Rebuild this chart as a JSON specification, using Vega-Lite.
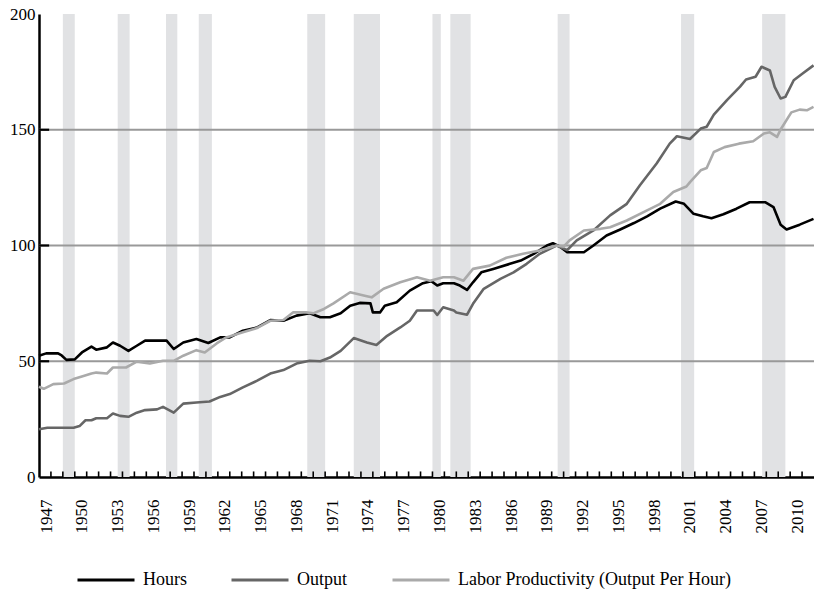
{
  "$schema": "https://vega.github.io/schema/vega-lite/v6.json",
  "width": 775,
  "height": 463,
  "autosize": {"type": "none"},
  "padding": {"left": 39, "top": 14, "right": 0, "bottom": 116},
  "background": "white",
  "config": {
    "view": {"stroke": null},
    "font": "Liberation Serif",
    "axis": {"title": null, "grid": false, "ticks": false, "labelOverlap": false, "labelFont": "Liberation Serif", "labelFontSize": 17, "labelColor": "#000000", "domainColor": "#000000", "domainWidth": 2.5, "zindex": 1},
    "axisX": {"labelOverlap": false, "labelAngle": 270, "labelOffset": 7, "labelPadding": 22, "format": "d", "tickCount": 100},
    "axisY": {"labelOverlap": false, "labelPadding": 4}
  },
  "datasets": {
    "recessions": [
      {"start": 1949.0, "end": 1950.0},
      {"start": 1953.6, "end": 1954.6},
      {"start": 1957.65, "end": 1958.6},
      {"start": 1960.4, "end": 1961.5},
      {"start": 1969.5, "end": 1971.0},
      {"start": 1973.4, "end": 1975.6},
      {"start": 1980.0, "end": 1980.7},
      {"start": 1981.5, "end": 1983.2},
      {"start": 1990.5, "end": 1991.5},
      {"start": 2000.85, "end": 2001.95},
      {"start": 2007.65, "end": 2009.6}
    ],
    "grid": [{"v": 50}, {"v": 100}, {"v": 150}],
    "yearticks": [
      {"t": 1948}, {"t": 1949}, {"t": 1950}, {"t": 1951}, {"t": 1952}, {"t": 1953}, {"t": 1954}, {"t": 1955}, {"t": 1956}, {"t": 1957},
      {"t": 1958}, {"t": 1959}, {"t": 1960}, {"t": 1961}, {"t": 1962}, {"t": 1963}, {"t": 1964}, {"t": 1965}, {"t": 1966}, {"t": 1967},
      {"t": 1968}, {"t": 1969}, {"t": 1970}, {"t": 1971}, {"t": 1972}, {"t": 1973}, {"t": 1974}, {"t": 1975}, {"t": 1976}, {"t": 1977},
      {"t": 1978}, {"t": 1979}, {"t": 1980}, {"t": 1981}, {"t": 1982}, {"t": 1983}, {"t": 1984}, {"t": 1985}, {"t": 1986}, {"t": 1987},
      {"t": 1988}, {"t": 1989}, {"t": 1990}, {"t": 1991}, {"t": 1992}, {"t": 1993}, {"t": 1994}, {"t": 1995}, {"t": 1996}, {"t": 1997},
      {"t": 1998}, {"t": 1999}, {"t": 2000}, {"t": 2001}, {"t": 2002}, {"t": 2003}, {"t": 2004}, {"t": 2005}, {"t": 2006}, {"t": 2007},
      {"t": 2008}, {"t": 2009}, {"t": 2010}, {"t": 2011}
    ],
    "series": [
      {"series": "Hours", "year": 1947.0, "value": 52.4},
      {"series": "Hours", "year": 1947.6, "value": 53.4},
      {"series": "Hours", "year": 1948.6, "value": 53.4},
      {"series": "Hours", "year": 1948.9, "value": 52.5},
      {"series": "Hours", "year": 1949.3, "value": 50.6},
      {"series": "Hours", "year": 1950.0, "value": 50.8},
      {"series": "Hours", "year": 1950.6, "value": 53.8},
      {"series": "Hours", "year": 1951.4, "value": 56.3},
      {"series": "Hours", "year": 1951.8, "value": 55.0},
      {"series": "Hours", "year": 1952.7, "value": 56.0},
      {"series": "Hours", "year": 1953.2, "value": 58.1},
      {"series": "Hours", "year": 1953.8, "value": 56.7},
      {"series": "Hours", "year": 1954.5, "value": 54.5},
      {"series": "Hours", "year": 1955.2, "value": 56.7},
      {"series": "Hours", "year": 1955.9, "value": 58.9},
      {"series": "Hours", "year": 1957.7, "value": 58.9},
      {"series": "Hours", "year": 1958.3, "value": 55.3},
      {"series": "Hours", "year": 1959.1, "value": 58.1},
      {"series": "Hours", "year": 1960.2, "value": 59.6},
      {"series": "Hours", "year": 1961.2, "value": 57.9},
      {"series": "Hours", "year": 1962.2, "value": 60.3},
      {"series": "Hours", "year": 1963.0, "value": 60.3},
      {"series": "Hours", "year": 1964.1, "value": 63.2},
      {"series": "Hours", "year": 1965.3, "value": 64.6},
      {"series": "Hours", "year": 1966.4, "value": 67.8},
      {"series": "Hours", "year": 1967.5, "value": 67.5},
      {"series": "Hours", "year": 1968.6, "value": 69.7},
      {"series": "Hours", "year": 1969.7, "value": 70.7},
      {"series": "Hours", "year": 1970.6, "value": 69.0},
      {"series": "Hours", "year": 1971.4, "value": 69.0},
      {"series": "Hours", "year": 1972.3, "value": 70.7},
      {"series": "Hours", "year": 1973.1, "value": 74.0},
      {"series": "Hours", "year": 1973.9, "value": 75.2},
      {"series": "Hours", "year": 1974.8, "value": 75.0},
      {"series": "Hours", "year": 1975.0, "value": 71.1},
      {"series": "Hours", "year": 1975.6, "value": 71.1},
      {"series": "Hours", "year": 1976.0, "value": 74.0},
      {"series": "Hours", "year": 1977.0, "value": 75.5},
      {"series": "Hours", "year": 1978.1, "value": 80.5},
      {"series": "Hours", "year": 1979.2, "value": 83.7},
      {"series": "Hours", "year": 1979.9, "value": 84.6},
      {"series": "Hours", "year": 1980.4, "value": 82.7},
      {"series": "Hours", "year": 1980.9, "value": 83.7},
      {"series": "Hours", "year": 1981.8, "value": 83.7},
      {"series": "Hours", "year": 1982.3, "value": 82.7},
      {"series": "Hours", "year": 1982.9, "value": 80.8},
      {"series": "Hours", "year": 1983.4, "value": 84.1},
      {"series": "Hours", "year": 1984.1, "value": 88.4},
      {"series": "Hours", "year": 1985.1, "value": 89.9},
      {"series": "Hours", "year": 1986.5, "value": 92.1},
      {"series": "Hours", "year": 1987.4, "value": 93.5},
      {"series": "Hours", "year": 1988.5, "value": 96.4},
      {"series": "Hours", "year": 1989.6, "value": 100.0},
      {"series": "Hours", "year": 1990.1, "value": 101.0},
      {"series": "Hours", "year": 1990.7, "value": 99.5},
      {"series": "Hours", "year": 1991.3, "value": 97.1},
      {"series": "Hours", "year": 1992.7, "value": 97.1},
      {"series": "Hours", "year": 1993.5, "value": 100.0},
      {"series": "Hours", "year": 1994.6, "value": 104.3},
      {"series": "Hours", "year": 1995.7, "value": 106.8},
      {"series": "Hours", "year": 1996.9, "value": 109.7},
      {"series": "Hours", "year": 1998.0, "value": 112.6},
      {"series": "Hours", "year": 1999.1, "value": 115.9},
      {"series": "Hours", "year": 2000.4, "value": 119.0},
      {"series": "Hours", "year": 2001.1, "value": 118.0},
      {"series": "Hours", "year": 2001.9, "value": 113.7},
      {"series": "Hours", "year": 2002.7, "value": 112.6},
      {"series": "Hours", "year": 2003.4, "value": 111.8},
      {"series": "Hours", "year": 2004.4, "value": 113.5},
      {"series": "Hours", "year": 2005.5, "value": 115.9},
      {"series": "Hours", "year": 2006.6, "value": 118.7},
      {"series": "Hours", "year": 2007.9, "value": 118.7},
      {"series": "Hours", "year": 2008.6, "value": 116.6},
      {"series": "Hours", "year": 2009.2, "value": 109.0},
      {"series": "Hours", "year": 2009.7, "value": 106.9},
      {"series": "Hours", "year": 2010.8, "value": 109.0},
      {"series": "Hours", "year": 2011.96, "value": 111.5},

      {"series": "Output", "year": 1947.0, "value": 20.6},
      {"series": "Output", "year": 1947.7, "value": 21.3},
      {"series": "Output", "year": 1949.9, "value": 21.3},
      {"series": "Output", "year": 1950.4, "value": 22.0},
      {"series": "Output", "year": 1950.9, "value": 24.5},
      {"series": "Output", "year": 1951.4, "value": 24.5},
      {"series": "Output", "year": 1951.8, "value": 25.4},
      {"series": "Output", "year": 1952.7, "value": 25.4},
      {"series": "Output", "year": 1953.2, "value": 27.4},
      {"series": "Output", "year": 1953.8, "value": 26.4},
      {"series": "Output", "year": 1954.5, "value": 26.0},
      {"series": "Output", "year": 1955.2, "value": 27.8},
      {"series": "Output", "year": 1955.9, "value": 28.9},
      {"series": "Output", "year": 1956.9, "value": 29.2},
      {"series": "Output", "year": 1957.4, "value": 30.3},
      {"series": "Output", "year": 1958.3, "value": 27.8},
      {"series": "Output", "year": 1959.1, "value": 31.7},
      {"series": "Output", "year": 1960.2, "value": 32.2},
      {"series": "Output", "year": 1961.3, "value": 32.6},
      {"series": "Output", "year": 1962.2, "value": 34.6},
      {"series": "Output", "year": 1963.0, "value": 35.8},
      {"series": "Output", "year": 1964.1, "value": 38.7},
      {"series": "Output", "year": 1965.3, "value": 41.6},
      {"series": "Output", "year": 1966.4, "value": 44.7},
      {"series": "Output", "year": 1967.5, "value": 46.2},
      {"series": "Output", "year": 1968.6, "value": 49.0},
      {"series": "Output", "year": 1969.7, "value": 50.2},
      {"series": "Output", "year": 1970.6, "value": 50.0},
      {"series": "Output", "year": 1971.4, "value": 51.6},
      {"series": "Output", "year": 1972.3, "value": 54.5},
      {"series": "Output", "year": 1973.4, "value": 60.0},
      {"series": "Output", "year": 1974.5, "value": 58.1},
      {"series": "Output", "year": 1975.3, "value": 57.0},
      {"series": "Output", "year": 1976.2, "value": 61.0},
      {"series": "Output", "year": 1977.3, "value": 64.6},
      {"series": "Output", "year": 1978.1, "value": 67.5},
      {"series": "Output", "year": 1978.7, "value": 71.9},
      {"series": "Output", "year": 1980.1, "value": 71.9},
      {"series": "Output", "year": 1980.4, "value": 70.0},
      {"series": "Output", "year": 1980.9, "value": 73.3},
      {"series": "Output", "year": 1981.8, "value": 71.9},
      {"series": "Output", "year": 1982.0, "value": 71.1},
      {"series": "Output", "year": 1982.9, "value": 70.1},
      {"series": "Output", "year": 1983.4, "value": 74.8},
      {"series": "Output", "year": 1984.3, "value": 81.3},
      {"series": "Output", "year": 1985.7, "value": 85.6},
      {"series": "Output", "year": 1986.8, "value": 88.4},
      {"series": "Output", "year": 1987.9, "value": 92.1},
      {"series": "Output", "year": 1989.0, "value": 96.4},
      {"series": "Output", "year": 1990.4, "value": 100.0},
      {"series": "Output", "year": 1991.3, "value": 98.0},
      {"series": "Output", "year": 1992.1, "value": 102.2},
      {"series": "Output", "year": 1993.5, "value": 106.5},
      {"series": "Output", "year": 1994.9, "value": 113.0},
      {"series": "Output", "year": 1996.3, "value": 118.0},
      {"series": "Output", "year": 1997.4, "value": 126.0},
      {"series": "Output", "year": 1998.8, "value": 135.4},
      {"series": "Output", "year": 1999.9, "value": 144.0},
      {"series": "Output", "year": 2000.5, "value": 147.2},
      {"series": "Output", "year": 2001.6, "value": 146.0},
      {"series": "Output", "year": 2002.5, "value": 150.5},
      {"series": "Output", "year": 2003.0, "value": 151.3},
      {"series": "Output", "year": 2003.6, "value": 156.5},
      {"series": "Output", "year": 2004.7, "value": 162.8},
      {"series": "Output", "year": 2005.8, "value": 168.6},
      {"series": "Output", "year": 2006.3, "value": 171.7},
      {"series": "Output", "year": 2007.1, "value": 172.9},
      {"series": "Output", "year": 2007.6, "value": 177.2},
      {"series": "Output", "year": 2008.3, "value": 175.6},
      {"series": "Output", "year": 2008.7, "value": 168.5},
      {"series": "Output", "year": 2009.2, "value": 163.5},
      {"series": "Output", "year": 2009.6, "value": 164.2},
      {"series": "Output", "year": 2010.3, "value": 171.4},
      {"series": "Output", "year": 2011.1, "value": 174.5},
      {"series": "Output", "year": 2011.96, "value": 177.8},

      {"series": "Labor Productivity (Output Per Hour)", "year": 1947.0, "value": 39.0},
      {"series": "Labor Productivity (Output Per Hour)", "year": 1947.4, "value": 38.1},
      {"series": "Labor Productivity (Output Per Hour)", "year": 1948.2, "value": 40.1},
      {"series": "Labor Productivity (Output Per Hour)", "year": 1949.1, "value": 40.4},
      {"series": "Labor Productivity (Output Per Hour)", "year": 1949.9, "value": 42.3},
      {"series": "Labor Productivity (Output Per Hour)", "year": 1950.8, "value": 43.7},
      {"series": "Labor Productivity (Output Per Hour)", "year": 1951.4, "value": 44.7},
      {"series": "Labor Productivity (Output Per Hour)", "year": 1951.8, "value": 45.1},
      {"series": "Labor Productivity (Output Per Hour)", "year": 1952.7, "value": 44.7},
      {"series": "Labor Productivity (Output Per Hour)", "year": 1953.2, "value": 47.3},
      {"series": "Labor Productivity (Output Per Hour)", "year": 1954.3, "value": 47.3},
      {"series": "Labor Productivity (Output Per Hour)", "year": 1955.2, "value": 49.8},
      {"series": "Labor Productivity (Output Per Hour)", "year": 1956.3, "value": 49.0},
      {"series": "Labor Productivity (Output Per Hour)", "year": 1957.4, "value": 50.2},
      {"series": "Labor Productivity (Output Per Hour)", "year": 1958.3, "value": 50.2},
      {"series": "Labor Productivity (Output Per Hour)", "year": 1959.1, "value": 52.4},
      {"series": "Labor Productivity (Output Per Hour)", "year": 1960.2, "value": 54.8},
      {"series": "Labor Productivity (Output Per Hour)", "year": 1960.9, "value": 53.8},
      {"series": "Labor Productivity (Output Per Hour)", "year": 1961.9, "value": 57.7},
      {"series": "Labor Productivity (Output Per Hour)", "year": 1962.7, "value": 60.3},
      {"series": "Labor Productivity (Output Per Hour)", "year": 1964.1, "value": 62.5},
      {"series": "Labor Productivity (Output Per Hour)", "year": 1965.3, "value": 64.4},
      {"series": "Labor Productivity (Output Per Hour)", "year": 1966.4, "value": 67.5},
      {"series": "Labor Productivity (Output Per Hour)", "year": 1967.5, "value": 67.8},
      {"series": "Labor Productivity (Output Per Hour)", "year": 1968.3, "value": 71.1},
      {"series": "Labor Productivity (Output Per Hour)", "year": 1969.4, "value": 71.1},
      {"series": "Labor Productivity (Output Per Hour)", "year": 1970.0, "value": 70.7},
      {"series": "Labor Productivity (Output Per Hour)", "year": 1970.9, "value": 72.6},
      {"series": "Labor Productivity (Output Per Hour)", "year": 1971.7, "value": 75.0},
      {"series": "Labor Productivity (Output Per Hour)", "year": 1973.1, "value": 79.8},
      {"series": "Labor Productivity (Output Per Hour)", "year": 1974.5, "value": 78.1},
      {"series": "Labor Productivity (Output Per Hour)", "year": 1974.9, "value": 77.6},
      {"series": "Labor Productivity (Output Per Hour)", "year": 1975.9, "value": 81.3},
      {"series": "Labor Productivity (Output Per Hour)", "year": 1977.3, "value": 84.1},
      {"series": "Labor Productivity (Output Per Hour)", "year": 1978.7, "value": 86.3},
      {"series": "Labor Productivity (Output Per Hour)", "year": 1979.8, "value": 84.8},
      {"series": "Labor Productivity (Output Per Hour)", "year": 1980.9, "value": 86.3},
      {"series": "Labor Productivity (Output Per Hour)", "year": 1981.8, "value": 86.3},
      {"series": "Labor Productivity (Output Per Hour)", "year": 1982.6, "value": 84.8},
      {"series": "Labor Productivity (Output Per Hour)", "year": 1983.4, "value": 89.9},
      {"series": "Labor Productivity (Output Per Hour)", "year": 1984.8, "value": 91.3},
      {"series": "Labor Productivity (Output Per Hour)", "year": 1986.2, "value": 94.7},
      {"series": "Labor Productivity (Output Per Hour)", "year": 1987.6, "value": 96.4},
      {"series": "Labor Productivity (Output Per Hour)", "year": 1989.0, "value": 97.8},
      {"series": "Labor Productivity (Output Per Hour)", "year": 1990.4, "value": 100.0},
      {"series": "Labor Productivity (Output Per Hour)", "year": 1991.0, "value": 99.5},
      {"series": "Labor Productivity (Output Per Hour)", "year": 1991.5, "value": 102.2},
      {"series": "Labor Productivity (Output Per Hour)", "year": 1992.7, "value": 106.5},
      {"series": "Labor Productivity (Output Per Hour)", "year": 1994.1, "value": 107.2},
      {"series": "Labor Productivity (Output Per Hour)", "year": 1994.9, "value": 107.9},
      {"series": "Labor Productivity (Output Per Hour)", "year": 1996.3, "value": 110.8},
      {"series": "Labor Productivity (Output Per Hour)", "year": 1998.0, "value": 115.2},
      {"series": "Labor Productivity (Output Per Hour)", "year": 1999.1, "value": 118.0},
      {"series": "Labor Productivity (Output Per Hour)", "year": 2000.2, "value": 123.1},
      {"series": "Labor Productivity (Output Per Hour)", "year": 2001.3, "value": 125.5},
      {"series": "Labor Productivity (Output Per Hour)", "year": 2001.6, "value": 127.4},
      {"series": "Labor Productivity (Output Per Hour)", "year": 2002.5, "value": 132.5},
      {"series": "Labor Productivity (Output Per Hour)", "year": 2003.0, "value": 133.5},
      {"series": "Labor Productivity (Output Per Hour)", "year": 2003.6, "value": 140.4},
      {"series": "Labor Productivity (Output Per Hour)", "year": 2004.5, "value": 142.5},
      {"series": "Labor Productivity (Output Per Hour)", "year": 2005.7, "value": 144.0},
      {"series": "Labor Productivity (Output Per Hour)", "year": 2006.9, "value": 145.0},
      {"series": "Labor Productivity (Output Per Hour)", "year": 2007.8, "value": 148.4},
      {"series": "Labor Productivity (Output Per Hour)", "year": 2008.3, "value": 148.9},
      {"series": "Labor Productivity (Output Per Hour)", "year": 2008.9, "value": 146.9},
      {"series": "Labor Productivity (Output Per Hour)", "year": 2009.2, "value": 150.1},
      {"series": "Labor Productivity (Output Per Hour)", "year": 2010.1, "value": 157.5},
      {"series": "Labor Productivity (Output Per Hour)", "year": 2010.8, "value": 158.7},
      {"series": "Labor Productivity (Output Per Hour)", "year": 2011.4, "value": 158.4},
      {"series": "Labor Productivity (Output Per Hour)", "year": 2011.96, "value": 159.9}
    ]
  },
  "layer": [
    {
      "data": {"name": "recessions"},
      "mark": {"type": "rect", "color": "#e1e2e4"},
      "encoding": {
        "x": {
          "field": "start", "type": "quantitative",
          "scale": {"domain": [1947, 2012], "nice": false, "zero": false},
          "axis": {
            "values": [1947,1950,1953,1956,1959,1962,1965,1968,1971,1974,1977,1980,1983,1986,1989,1992,1995,1998,2001,2004,2007,2010],
            "tickCount": 100,
            "labelOverlap": false
          }
        },
        "x2": {"field": "end"}
      }
    },
    {
      "data": {"name": "grid"},
      "mark": {"type": "rule", "color": "#999999", "strokeWidth": 2},
      "encoding": {
        "y": {
          "field": "v", "type": "quantitative",
          "scale": {"domain": [0, 200], "nice": false},
          "axis": {
            "values": [0, 50, 100, 150, 200],
            "tickCount": 20,
            "labelOverlap": false
          }
        }
      }
    },
    {
      "data": {"name": "grid"},
      "mark": {"type": "rule", "color": "#000000", "strokeWidth": 2.2},
      "encoding": {
        "y": {"field": "v", "type": "quantitative"},
        "x": {"datum": 1947, "type": "quantitative"},
        "x2": {"datum": 1947.85}
      }
    },
    {
      "data": {"name": "yearticks"},
      "mark": {"type": "rule", "color": "#000000", "strokeWidth": 1.6},
      "encoding": {
        "x": {"field": "t", "type": "quantitative"},
        "y": {"datum": 0, "type": "quantitative"},
        "y2": {"datum": 2.4}
      }
    },
    {
      "data": {"name": "series"},
      "mark": {"type": "line", "strokeWidth": 2.6, "strokeJoin": "round"},
      "encoding": {
        "x": {
          "field": "year", "type": "quantitative",
          "axis": {
            "values": [1947,1950,1953,1956,1959,1962,1965,1968,1971,1974,1977,1980,1983,1986,1989,1992,1995,1998,2001,2004,2007,2010],
            "tickCount": 100,
            "labelOverlap": false
          }
        },
        "y": {
          "field": "value", "type": "quantitative",
          "axis": {
            "values": [0, 50, 100, 150, 200],
            "tickCount": 20,
            "labelOverlap": false
          }
        },
        "color": {
          "field": "series", "type": "nominal",
          "scale": {
            "domain": ["Hours", "Output", "Labor Productivity (Output Per Hour)"],
            "range": ["#000000", "#666666", "#aaaaaa"]
          },
          "legend": {
            "title": null,
            "orient": "none",
            "legendX": 37,
            "legendY": 536,
            "direction": "horizontal",
            "symbolType": "stroke",
            "symbolSize": 3249,
            "symbolStrokeWidth": 3,
            "labelFont": "Liberation Serif",
            "labelFontSize": 18,
            "labelColor": "#000000",
            "labelLimit": 400,
            "labelOffset": 7,
            "columnPadding": 38,
            "padding": 0
          }
        }
      }
    },
    {
      "mark": {"type": "rule", "color": "#000000", "strokeWidth": 2.5},
      "encoding": {"y": {"datum": 200}}
    }
  ]
}
